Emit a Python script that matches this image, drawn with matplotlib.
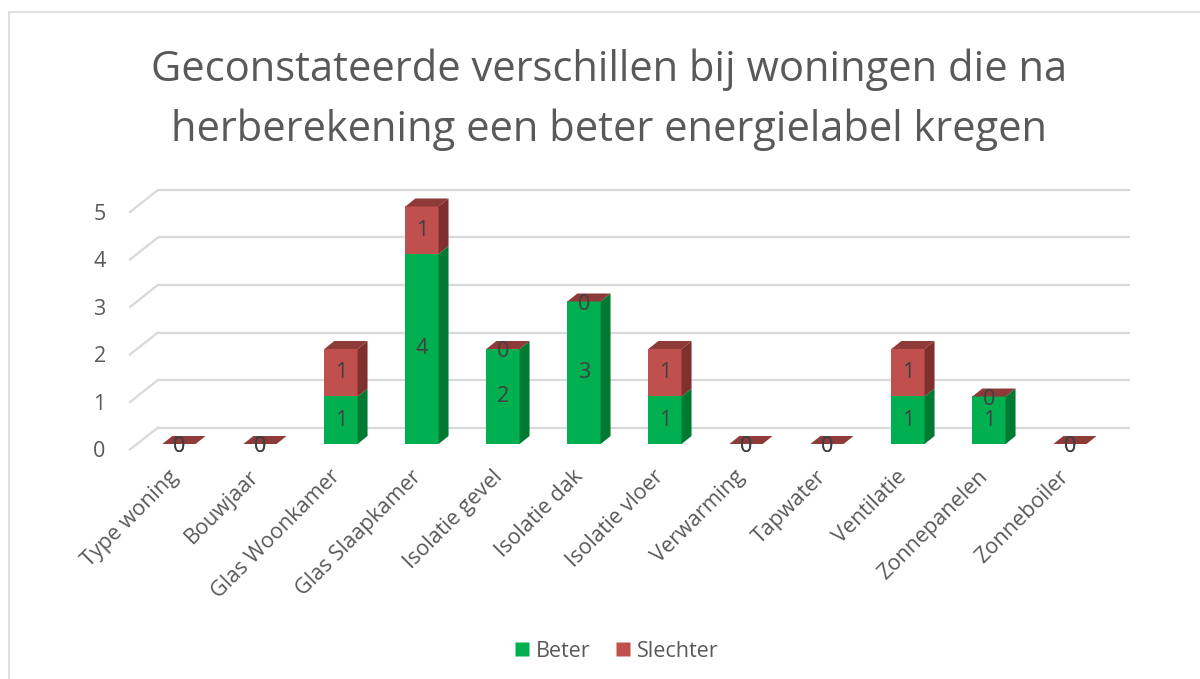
import matplotlib.pyplot as plt
from matplotlib.patches import Polygon, Rectangle
from matplotlib.lines import Line2D

plt.rcParams['font.family'] = ['Open Sans', 'DejaVu Sans']

categories = ["Type woning", "Bouwjaar", "Glas Woonkamer", "Glas Slaapkamer",
              "Isolatie gevel", "Isolatie dak", "Isolatie vloer", "Verwarming",
              "Tapwater", "Ventilatie", "Zonnepanelen", "Zonneboiler"]
beter = [0, 0, 1, 4, 2, 3, 1, 0, 0, 1, 1, 0]
slechter = [0, 0, 1, 1, 0, 0, 1, 0, 0, 1, 0, 0]
y_ticks = [0, 1, 2, 3, 4, 5]

# colours: front, side, top
green = ("#00b050", "#007a33", "#00963f")
red = ("#c0504d", "#7f302e", "#8e3a38")
text_col = "#595959"
label_col = "#404040"

# fake 3D offsets in data units
w = 0.205          # half bar width
ddx, ddy = 0.123, 0.168     # bar depth
wall_dy = 0.347   # back wall offset from bar plane
front_dy = -0.116  # front floor edge offset

fig = plt.figure(figsize=(12, 6.79), dpi=100)
ax = fig.add_axes([0.1019, 0.3251, 0.8505, 0.4058])
ax.set_xlim(-0.7, 11.9)
ax.set_ylim(-0.3, 5.5)
ax.axis("off")

n = len(categories)
x_left = -0.605
x_right_back = 11.74

# gridlines: back wall + left side wall diagonal
for v in y_ticks:
    ax.plot([x_left + 0.345, x_right_back], [v + wall_dy, v + wall_dy],
            color="#d9d9d9", lw=1.6, zorder=1, solid_capstyle="butt")
    ax.plot([x_left, x_left + 0.345], [v + front_dy, v + wall_dy],
            color="#d9d9d9", lw=1.6, zorder=1)
    ax.text(x_left - 0.3, v + front_dy - 0.05, str(v), ha="right",
            va="center", fontsize=15.5, color=text_col, clip_on=False)


def draw_box(x, bottom, height, cols, top_face):
    front, side, top = cols
    if height > 0:
        ax.add_patch(Rectangle((x - w, bottom), 2 * w, height, facecolor=front,
                               edgecolor="none", zorder=3))
        ax.add_patch(Polygon([(x + w, bottom), (x + w + ddx, bottom + ddy),
                              (x + w + ddx, bottom + height + ddy),
                              (x + w, bottom + height)],
                             facecolor=side, edgecolor="none", zorder=3))
    if top_face:
        t = bottom + height
        ax.add_patch(Polygon([(x - w, t), (x - w + ddx, t + ddy),
                              (x + w + ddx, t + ddy), (x + w, t)],
                             facecolor=top, edgecolor="none", zorder=3))


for i in range(n):
    draw_box(i, 0, beter[i], green, False)
    draw_box(i, beter[i], slechter[i], red, True)
    yb = beter[i] / 2 if beter[i] else -0.06
    ys = beter[i] + slechter[i] / 2 if slechter[i] else beter[i] - 0.06
    ax.text(i, yb, str(beter[i]), ha="center", va="center",
            fontsize=15.5, color=label_col, zorder=5)
    ax.text(i, ys, str(slechter[i]), ha="center",
            va="center", fontsize=15.5, color=label_col, zorder=5)
    ax.text(i - 0.05, -0.62, categories[i], rotation=45, ha="right",
            va="center", rotation_mode="anchor", fontsize=15.5, color=text_col,
            clip_on=False)

fig.text(0.5075, 0.8535, "Geconstateerde verschillen bij woningen die na\n"
         "herberekening een beter energielabel kregen",
         ha="center", va="center", fontsize=30, color=text_col,
         linespacing=1.55)

handles = [Line2D([], [], marker="s", ls="none", markersize=10.5,
                  markerfacecolor=green[0], markeredgecolor="none"),
           Line2D([], [], marker="s", ls="none", markersize=10.5,
                  markerfacecolor=red[0], markeredgecolor="none")]
leg = fig.legend(handles, ["Beter", "Slechter"], loc="center",
                 bbox_to_anchor=(0.5125, 0.041), ncol=2, frameon=False,
                 fontsize=15.5, handletextpad=0.15, columnspacing=1.0,
                 handlelength=1.0)
for t in leg.get_texts():
    t.set_color(text_col)

fig.add_artist(Rectangle((9 / 1200, -0.01), 1.2, 1 - 12 / 679 + 0.01,
                         transform=fig.transFigure, facecolor="none",
                         edgecolor="#d9d9d9", lw=1.2))

fig.savefig("out.png", dpi=100)
